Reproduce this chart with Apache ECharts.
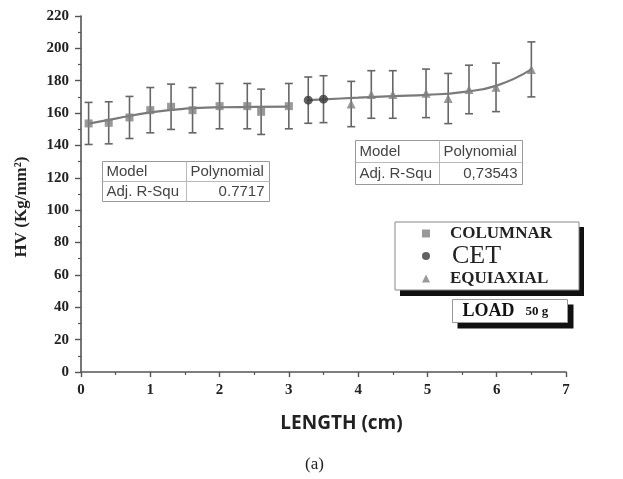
<!DOCTYPE html>
<html lang="en">
<head>
    <meta charset="UTF-8">
    <title>HV vs length</title>
    <script src="https://cdn.jsdelivr.net/npm/echarts@6/dist/echarts.min.js"></script>
    <style>
        html, body { margin: 0; padding: 0; background: #fff; }
        #main { width: 623px; height: 479px; }
    </style>
</head>
<body>
<div id="main"></div>
<script>
    // data
    var colX = [0.11, 0.40, 0.70, 1.00, 1.30, 1.61, 2.00, 2.40, 2.60, 3.00];
    var colY = [153.6, 154.0, 157.3, 161.8, 163.9, 161.8, 164.3, 164.3, 160.8, 164.3];
    var colErr = [13, 13, 13, 14, 14, 14, 14, 14, 14, 14];

    var cetX = [3.28, 3.50];
    var cetY = [168.0, 168.6];
    var cetErr = [14.3, 14.5];

    var eqX = [3.90, 4.19, 4.50, 4.98, 5.30, 5.60, 5.99, 6.50];
    var eqY = [165.6, 171.5, 171.5, 172.2, 169.0, 174.6, 175.9, 187.0];
    var eqErr = [14, 14.7, 14.7, 15, 15.5, 15, 15, 17];

    // polynomial fit curves
    var fit1X = [0.11, 0.5, 1.0, 1.5, 2.0, 2.5, 3.0];
    var fit1Y = [153.5, 156.6, 160.4, 162.7, 163.6, 163.8, 164.0];
    var fit2X = [3.28, 3.5, 4.0, 4.5, 5.0, 5.5, 6.0, 6.5];
    var fit2Y = [168.0, 168.5, 169.5, 170.5, 171.3, 173.0, 177.0, 187.0];

    var seriesNames = ['COLUMNAR', 'CET', 'EQUIAXIAL'];
    var yTicks = { min: 0, max: 220, step: 20 };
    var xTicks = { min: 0, max: 7, step: 1 };

    var table1 = [['Model', 'Polynomial'], ['Adj. R-Squ', '0.7717']];
    var table2 = [['Model', 'Polynomial'], ['Adj. R-Squ', '0,73543']];

    function pts(xs, ys, es) {
        return xs.map(function (x, i) { return es ? [x, ys[i], es[i]] : [x, ys[i]]; });
    }

    function errBar(params, api) {
        var x = api.value(0), y = api.value(1), e = api.value(2);
        var top = api.coord([x, y + e]);
        var bot = api.coord([x, y - e]);
        var st = { stroke: '#666', lineWidth: 1.6 };
        return {
            type: 'group',
            children: [
                { type: 'line', shape: { x1: top[0], y1: top[1], x2: bot[0], y2: bot[1] }, style: st },
                { type: 'line', shape: { x1: top[0] - 4, y1: top[1], x2: top[0] + 4, y2: top[1] }, style: st },
                { type: 'line', shape: { x1: bot[0] - 4, y1: bot[1], x2: bot[0] + 4, y2: bot[1] }, style: st }
            ]
        };
    }

    // small bordered table like the Origin fit boxes
    function fitTable(rows, x, y, w, h, colAt) {
        var rh = h / 2;
        var kids = [
            { type: 'rect', shape: { x: 0, y: 0, width: w, height: h }, style: { fill: '#fff', stroke: '#999', lineWidth: 1 } },
            { type: 'line', shape: { x1: 0, y1: rh, x2: w, y2: rh }, style: { stroke: '#bbb', lineWidth: 1 } },
            { type: 'line', shape: { x1: colAt, y1: 0, x2: colAt, y2: h }, style: { stroke: '#bbb', lineWidth: 1 } }
        ];
        rows.forEach(function (r, i) {
            var ty = rh * i + rh / 2;
            kids.push({ type: 'text', x: 4, y: ty, style: { text: r[0], font: '15px "Liberation Sans"', fill: '#444', verticalAlign: 'middle' } });
            if (i === 0) {
                kids.push({ type: 'text', x: colAt + 4, y: ty, style: { text: r[1], font: '15px "Liberation Sans"', fill: '#444', verticalAlign: 'middle' } });
            } else {
                kids.push({ type: 'text', x: w - 5, y: ty, style: { text: r[1], font: '15px "Liberation Sans"', fill: '#444', verticalAlign: 'middle', align: 'right' } });
            }
        });
        return { type: 'group', left: x, top: y, children: kids };
    }

    var myChart = echarts.init(document.getElementById('main'));
    var tickFont = { fontFamily: 'Liberation Serif', fontWeight: 'bold', fontSize: 15, color: '#222' };

    myChart.setOption({
        animation: false,
        grid: { left: 81, right: 57, top: 16, bottom: 107 },
        xAxis: {
            type: 'value', min: xTicks.min, max: xTicks.max, interval: xTicks.step,
            name: 'LENGTH (cm)', nameLocation: 'middle', nameGap: 42,
            nameTextStyle: { fontFamily: 'Open Sans', fontWeight: 'bold', fontSize: 19, color: '#222', padding: [0, 0, 0, 36] },
            axisLine: { lineStyle: { color: '#555', width: 1.6 } },
            axisTick: { length: 5, lineStyle: { color: '#555', width: 1.4 } },
            minorTick: { show: true, splitNumber: 2, length: 3, lineStyle: { color: '#555', width: 1.2 } },
            axisLabel: Object.assign({ margin: 11 }, tickFont),
            splitLine: { show: false }
        },
        yAxis: {
            type: 'value', min: yTicks.min, max: yTicks.max, interval: yTicks.step,
            name: 'HV (Kg/mm²)', nameLocation: 'middle', nameGap: 51,
            nameTextStyle: { fontFamily: 'Liberation Serif', fontWeight: 'bold', fontSize: 17, color: '#222', padding: [0, 26, 0, 0] },
            axisLine: { show: true, lineStyle: { color: '#555', width: 1.6 } },
            axisTick: { show: true, length: 6, lineStyle: { color: '#555', width: 1.4 } },
            minorTick: { show: true, splitNumber: 2, length: 3, lineStyle: { color: '#555', width: 1.2 } },
            axisLabel: Object.assign({ margin: 12 }, tickFont),
            splitLine: { show: false }
        },
        legend: {
            data: seriesNames,
            orient: 'vertical',
            left: 395, top: 222,
            padding: [3, 27, 3, 27],
            itemGap: 1,
            itemWidth: 8, itemHeight: 8,
            backgroundColor: '#fff',
            borderColor: '#888', borderWidth: 1,
            formatter: function (name) {
                return name === 'CET' ? '{big|' + name + '}' : '{sm|' + name + '}';
            },
            textStyle: {
                rich: {
                    sm: { fontFamily: 'Liberation Serif', fontWeight: 'bold', fontSize: 17, color: '#222', padding: [0, 0, 0, 15], height: 19 },
                    big: { fontFamily: 'Liberation Serif', fontSize: 26, color: '#222', padding: [0, 0, 0, 17], height: 24 }
                }
            }
        },
        graphic: [
            // hard drop shadow under the legend box
            { type: 'rect', left: 400, top: 227, shape: { width: 184, height: 69 }, style: { fill: '#111' } },
            fitTable(table1, 100, 159, 167, 40, 84),
            fitTable(table2, 353, 138, 167, 44, 84),
            {
                type: 'group', left: 452, top: 299,
                children: [
                    { type: 'rect', shape: { x: 5, y: 5, width: 116, height: 24 }, style: { fill: '#111' } },
                    { type: 'rect', shape: { x: 0, y: 0, width: 115, height: 23 }, style: { fill: '#fff', stroke: '#999', lineWidth: 1 } },
                    { type: 'text', x: 10, y: 12, style: { text: 'LOAD', font: 'bold 18px "Liberation Serif"', fill: '#111', verticalAlign: 'middle' } },
                    { type: 'text', x: 73, y: 12, style: { text: '50 g', font: 'bold 13px "Liberation Serif"', fill: '#111', verticalAlign: 'middle' } }
                ]
            },
            {
                type: 'text', left: 305, top: 456,
                style: { text: '(a)', font: '17px "Liberation Serif"', fill: '#222' }
            }
        ],
        series: [
            { type: 'custom', renderItem: errBar, data: pts(colX, colY, colErr), z: 2, silent: true },
            { type: 'custom', renderItem: errBar, data: pts(cetX, cetY, cetErr), z: 2, silent: true },
            { type: 'custom', renderItem: errBar, data: pts(eqX, eqY, eqErr), z: 2, silent: true },
            { type: 'line', smooth: true, symbol: 'none', data: pts(fit1X, fit1Y), lineStyle: { color: '#7a7a7a', width: 2.2 }, z: 3 },
            { type: 'line', smooth: true, symbol: 'none', data: pts(fit2X, fit2Y), lineStyle: { color: '#7a7a7a', width: 2.2 }, z: 3 },
            { name: 'COLUMNAR', type: 'scatter', symbol: 'rect', symbolSize: 8, data: pts(colX, colY), itemStyle: { color: '#808080' }, z: 4 },
            { name: 'CET', type: 'scatter', symbol: 'circle', symbolSize: 9, data: pts(cetX, cetY), itemStyle: { color: '#3a3a3a' }, z: 4 },
            { name: 'EQUIAXIAL', type: 'scatter', symbol: 'triangle', symbolSize: 9, data: pts(eqX, eqY), itemStyle: { color: '#808080' }, z: 4 }
        ]
    });
</script>
</body>
</html>
